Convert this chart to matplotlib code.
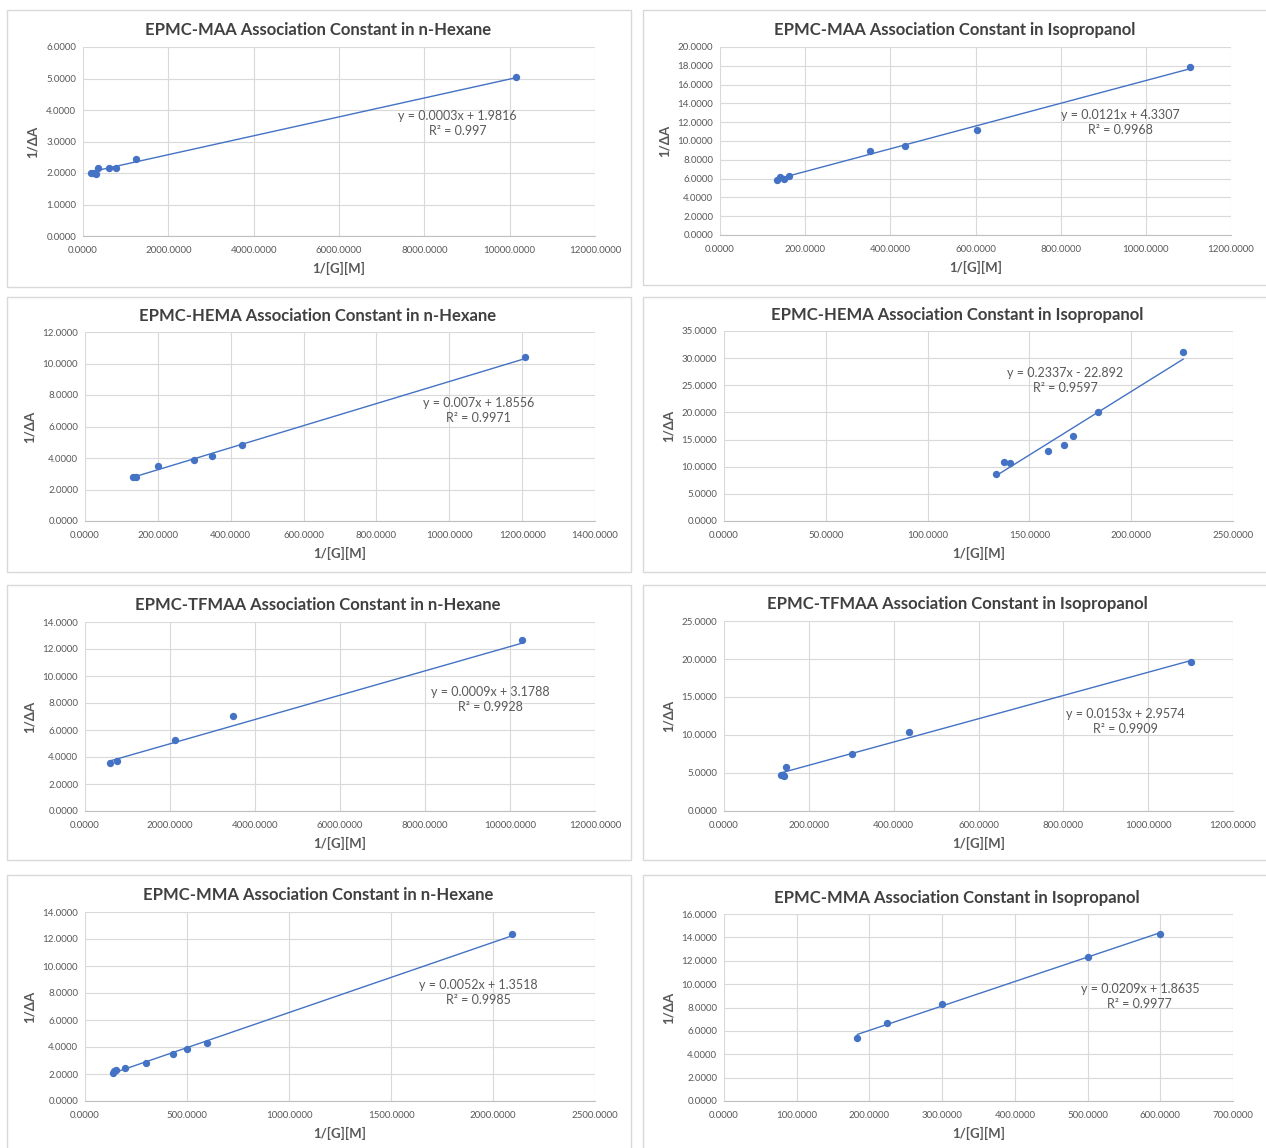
import numpy as np
import matplotlib
matplotlib.use('Agg')
import matplotlib.pyplot as plt
from matplotlib.patches import Rectangle
from matplotlib.ticker import FormatStrFormatter, MultipleLocator

plt.rcParams['font.family'] = ['Lato', 'DejaVu Sans']

# data
titles = [
    'EPMC-MAA Association Constant in n-Hexane',
    'EPMC-MAA Association Constant in Isopropanol',
    'EPMC-HEMA Association Constant in n-Hexane',
    'EPMC-HEMA Association Constant in Isopropanol',
    'EPMC-TFMAA Association Constant in n-Hexane',
    'EPMC-TFMAA Association Constant in Isopropanol',
    'EPMC-MMA Association Constant in n-Hexane',
    'EPMC-MMA Association Constant in Isopropanol',
]

maa_hex_x = [190, 250, 305, 362, 620, 780, 1240, 10150]
maa_hex_y = [2.00, 2.01, 1.98, 2.15, 2.15, 2.15, 2.43, 5.05]
maa_iso_x = [135, 140, 151, 161, 352, 435, 603, 1104]
maa_iso_y = [5.84, 6.20, 6.00, 6.27, 8.96, 9.52, 11.20, 17.90]
hema_hex_x = [133, 140, 200, 299, 349, 431, 1207]
hema_hex_y = [2.78, 2.82, 3.50, 3.90, 4.11, 4.81, 10.40]
hema_iso_x = [133.7, 137.3, 140.4, 159.0, 167.0, 171.6, 183.7, 225.5]
hema_iso_y = [8.64, 10.86, 10.68, 12.90, 14.00, 15.60, 20.00, 31.20]
tfmaa_hex_x = [580, 763, 2126, 3478, 10280]
tfmaa_hex_y = [3.52, 3.74, 5.25, 7.02, 12.68]
tfmaa_iso_x = [134, 138, 142, 147, 302, 435, 1102]
tfmaa_iso_y = [4.75, 4.72, 4.65, 5.83, 7.46, 10.40, 19.60]
mma_hex_x = [136, 144, 150, 198, 298, 432, 498, 598, 2092]
mma_hex_y = [2.08, 2.25, 2.33, 2.43, 2.79, 3.50, 3.85, 4.26, 12.35]
mma_iso_x = [183.5, 224.7, 300, 500, 600]
mma_iso_y = [5.39, 6.64, 8.28, 12.34, 14.27]

xs = [maa_hex_x, maa_iso_x, hema_hex_x, hema_iso_x,
      tfmaa_hex_x, tfmaa_iso_x, mma_hex_x, mma_iso_x]
ys = [maa_hex_y, maa_iso_y, hema_hex_y, hema_iso_y,
      tfmaa_hex_y, tfmaa_iso_y, mma_hex_y, mma_iso_y]

slopes = [0.0003, 0.0121, 0.007, 0.2337, 0.0009, 0.0153, 0.0052, 0.0209]
intercepts = [1.9816, 4.3307, 1.8556, -22.892, 3.1788, 2.9574, 1.3518, 1.8635]
eq_labels = [
    'y = 0.0003x + 1.9816\nR² = 0.997',
    'y = 0.0121x + 4.3307\nR² = 0.9968',
    'y = 0.007x + 1.8556\nR² = 0.9971',
    'y = 0.2337x - 22.892\nR² = 0.9597',
    'y = 0.0009x + 3.1788\nR² = 0.9928',
    'y = 0.0153x + 2.9574\nR² = 0.9909',
    'y = 0.0052x + 1.3518\nR² = 0.9985',
    'y = 0.0209x + 1.8635\nR² = 0.9977',
]

x_max = [12000, 1200, 1400, 250, 12000, 1200, 2500, 700]
x_step = [2000, 200, 200, 50, 2000, 200, 500, 100]
y_max = [6, 20, 12, 35, 14, 25, 14, 16]
y_step = [1, 2, 2, 5, 2, 5, 2, 2]

# layout in pixels
W, H = 1266, 1148
plot_rects = [  # left, right, top, bottom
    (83, 595, 47, 236), (720, 1231, 47, 235),
    (85, 595, 332, 521), (724, 1233, 331, 521),
    (85, 595, 622, 811), (724, 1233, 621, 811),
    (85, 595, 912, 1101), (724, 1233, 914, 1101),
]
boxes = [  # left, right, top, bottom
    (7, 631, 10, 287), (643, 1270, 10, 285),
    (7, 631, 297, 572), (643, 1270, 297, 572),
    (7, 631, 585, 860), (643, 1270, 585, 860),
    (7, 631, 875, 1152), (643, 1270, 875, 1152),
]
title_y = [30, 30, 316, 315, 605, 604, 895, 898]
title_x = [318, 955, 318, 957, 318, 957, 318, 957]
eq_pos = [(0.732, 0.595), (0.783, 0.598), (0.771, 0.585), (0.67, 0.739),
          (0.794, 0.59), (0.788, 0.471), (0.771, 0.574), (0.817, 0.559)]

blue = '#4472C4'
grid_c = '#D9D9D9'
txt_c = '#595959'
title_c = '#404040'

fig = plt.figure(figsize=(W / 100, H / 100), dpi=100)

for i in range(8):
    l, r, t, b = boxes[i]
    fig.patches.append(Rectangle((l / W, 1 - b / H), (r - l) / W, (b - t) / H,
                                 transform=fig.transFigure, fill=False,
                                 edgecolor='#D9D9D9', linewidth=1))

    l, r, t, b = plot_rects[i]
    ax = fig.add_axes([l / W, 1 - b / H, (r - l) / W, (b - t) / H])

    x = np.array(xs[i])
    y = np.array(ys[i])
    ax.scatter(x, y, s=28, color=blue, zorder=3, linewidths=0)
    fit_x = np.array([x.min(), x.max()])
    ax.plot(fit_x, slopes[i] * fit_x + intercepts[i], color=blue, lw=1, zorder=2)

    ax.set_xlim(0, x_max[i])
    ax.set_ylim(0, y_max[i])
    ax.xaxis.set_major_locator(MultipleLocator(x_step[i]))
    ax.yaxis.set_major_locator(MultipleLocator(y_step[i]))
    ax.xaxis.set_major_formatter(FormatStrFormatter('%.4f'))
    ax.yaxis.set_major_formatter(FormatStrFormatter('%.4f'))
    ax.grid(True, color=grid_c, lw=0.8)
    ax.set_axisbelow(True)
    for side in ['top', 'right', 'left']:
        ax.spines[side].set_visible(False)
    ax.spines['bottom'].set_color('#BFBFBF')
    ax.tick_params(axis='x', length=0, labelsize=7, colors=txt_c, pad=7)
    ax.tick_params(axis='y', length=0, labelsize=7, colors=txt_c, pad=5)

    ax.set_xlabel('1/[G][M]', fontsize=9.5, fontweight='bold', color=txt_c, labelpad=5)
    ax.set_ylabel('1/ΔA', fontsize=9.5, fontweight='bold', color=txt_c, labelpad=5)

    ax.text(eq_pos[i][0], eq_pos[i][1], eq_labels[i], transform=ax.transAxes,
            ha='center', va='center', multialignment='center',
            fontsize=9, color=txt_c, linespacing=1.25)

    fig.text(title_x[i] / W, 1 - title_y[i] / H, titles[i], ha='center', va='center',
             fontsize=12, fontweight='bold', color=title_c)

fig.savefig('out.png', dpi=100, facecolor='white')
